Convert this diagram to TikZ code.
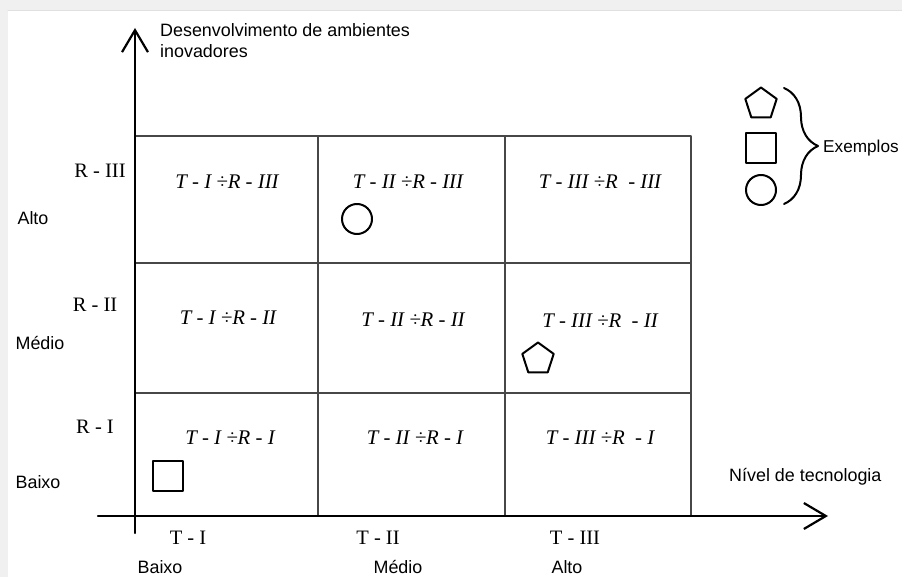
\documentclass[tikz,border=0pt]{standalone}
\usepackage{fontspec}
\setmainfont{Liberation Sans}
\newfontfamily\timesfont{Liberation Serif}
\usetikzlibrary{arrows.meta,shapes.geometric,decorations.pathreplacing}

\tikzset{
  sanslabel/.style={font=\fontsize{17.9}{21}\selectfont, inner sep=0pt},
  romanlabel/.style={font=\timesfont\fontsize{20.5}{22}\selectfont, inner sep=0pt},
  celltext/.style={font=\timesfont\itshape\fontsize{20.8}{22}\selectfont, inner sep=0pt},
  marker/.style={draw, line width=2pt, inner sep=0pt},
  gridline/.style={line width=1.4pt, draw=black!72},
  axis/.style={line width=2.4pt, -{Straight Barb[length=22pt,width=26pt,line width=2.2pt]}}
}

\begin{document}
\begin{tikzpicture}[x=1pt, y=-1pt, line cap=round, line join=round]
  % Bounding box and page background
  \useasboundingbox (0,0) rectangle (902,577);
  \fill[black!6] (0,0) rectangle (902,577);
  \fill[white] (8,11) rectangle (902,577);
  \draw[black!12, line width=1pt] (8,10.5) -- (902,10.5);

  % Grid limits (columns T, rows R)
  \def\xa{135} \def\xb{318} \def\xc{505} \def\xd{691}
  \def\ya{136} \def\yb{263} \def\yc{393} \def\yd{516}

  % Grid of the matrix
  \draw[gridline] (\xa,\ya) -- (\xd,\ya) -- (\xd,\yd);
  \draw[gridline] (\xa,\yb) -- (\xd,\yb);
  \draw[gridline] (\xa,\yc) -- (\xd,\yc);
  \draw[gridline] (\xb,\ya) -- (\xb,\yd);
  \draw[gridline] (\xc,\ya) -- (\xc,\yd);

  % Axes (drawn on top of the grid)
  \coordinate (ystart) at (\xa,533);
  \coordinate (yend) at (\xa,28);
  \coordinate (xstart) at (98,\yd);
  \coordinate (xend) at (828,\yd);
  \draw[axis] (ystart) -- (yend);
  \draw[axis] (xstart) -- (xend);

  % Axis titles
  \node[sanslabel, anchor=west, align=left] (ytitle) at (160,41)
    {Desenvolvimento de ambientes\\inovadores};
  \node[sanslabel, anchor=west] (xtitle) at (729,477) {Nível de tecnologia};

  % Row labels
  \node[romanlabel] (r3) at (100,171) {R - III};
  \node[romanlabel] (r2) at (95,305) {R - II};
  \node[romanlabel] (r1) at (95,427) {R - I};
  \node[sanslabel] (alto) at (33,218) {Alto};
  \node[sanslabel] (medio) at (40,343) {Médio};
  \node[sanslabel] (baixo) at (38,482) {Baixo};

  % Column labels
  \node[romanlabel] (t1) at (188,538) {T - I};
  \node[romanlabel] (t2) at (378,538) {T - II};
  \node[romanlabel] (t3) at (575,538) {T - III};
  \node[sanslabel] (tbaixo) at (160,567) {Baixo};
  \node[sanslabel] (tmedio) at (398,567) {Médio};
  \node[sanslabel] (talto) at (567,567) {Alto};

  % Cell texts
  \node[celltext] (c13) at (227,182) {T - I ÷R - III};
  \node[celltext] (c23) at (408,182) {T - II ÷R - III};
  \node[celltext] (c33) at (600,182) {T - III ÷R \ - III};
  \node[celltext] (c12) at (228,318) {T - I ÷R - II};
  \node[celltext] (c22) at (413,320) {T - II ÷R - II};
  \node[celltext] (c32) at (600,321) {T - III ÷R \ - II};
  \node[celltext] (c11) at (230,438) {T - I ÷R - I};
  \node[celltext] (c21) at (415,438) {T - II ÷R - I};
  \node[celltext] (c31) at (600,438) {T - III ÷R \ - I};

  % Markers placed in the matrix
  \node[marker, circle, minimum size=30pt] (mcirc) at (357,219) {};
  \node[marker, regular polygon, regular polygon sides=5, minimum size=33pt] (mpent) at (538,359) {};
  \node[marker, rectangle, minimum size=30pt] (msq) at (168,476) {};

  % Legend with brace
  \node[marker, regular polygon, regular polygon sides=5, minimum size=33pt] (lpent) at (761,104) {};
  \node[marker, rectangle, minimum size=30pt] (lsq) at (761,148) {};
  \node[marker, circle, minimum size=30pt] (lcirc) at (761,190) {};
  \coordinate (btop) at (784,88);
  \coordinate (bbot) at (784,204);
  \draw[line width=2pt, decorate, decoration={brace, amplitude=34pt}] (btop) -- (bbot);
  \node[sanslabel, font=\fontsize{17.2}{21}\selectfont, anchor=west] (exemplos) at (823,148) {Exemplos};
\end{tikzpicture}
\end{document}
